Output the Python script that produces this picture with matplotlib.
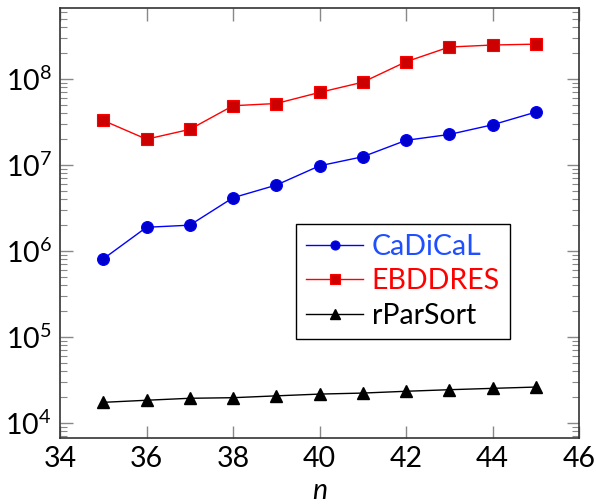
import numpy as np
import matplotlib
matplotlib.use("Agg")
import matplotlib.pyplot as plt
from matplotlib.ticker import LogLocator, NullFormatter

plt.rcParams['font.family'] = ['Lato', 'DejaVu Sans']
plt.rcParams['mathtext.fontset'] = 'custom'
plt.rcParams['mathtext.rm'] = 'Lato'
plt.rcParams['mathtext.it'] = 'Lato:italic'

n = [35, 36, 37, 38, 39, 40, 41, 42, 43, 44, 45]
cadical = [8.1e5, 1.89e6, 2.0e6, 4.17e6, 5.85e6, 9.8e6, 1.25e7, 1.94e7, 2.27e7, 2.94e7, 4.13e7]
ebddres = [3.3e7, 2.0e7, 2.6e7, 4.9e7, 5.2e7, 7.0e7, 9.2e7, 1.59e8, 2.36e8, 2.49e8, 2.55e8]
rparsort = [1.74e4, 1.84e4, 1.94e4, 1.97e4, 2.07e4, 2.17e4, 2.23e4, 2.34e4, 2.44e4, 2.53e4, 2.62e4]

fig = plt.figure(figsize=(5.96, 5.04), dpi=100)
ax = fig.add_axes([0.1007, 0.131, 0.8708, 0.853])

ax.plot(n, cadical, color='#0000ff', lw=1.0, marker='o', ms=8.5,
        mfc='#0000cc', mec='#0000ff', mew=0.8, label='CaDiCaL')
ax.plot(n, ebddres, color='#ff0000', lw=1.0, marker='s', ms=8,
        mfc='#cc0000', mec='#ff0000', mew=0.8, label='EBDDRES')
ax.plot(n, rparsort, color='black', lw=1.0, marker='^', ms=8.5,
        mfc='black', mec='black', label='rParSort')

ax.set_yscale('log')
ax.set_xlim(34, 46)
ax.set_ylim(6.7e3, 6.7e8)
ax.set_xticks([34, 36, 38, 40, 42, 44, 46])
ax.yaxis.set_major_locator(LogLocator(base=10, numticks=10))
ax.yaxis.set_minor_locator(LogLocator(base=10, subs=np.arange(2, 10), numticks=20))
ax.yaxis.set_minor_formatter(NullFormatter())

ax.tick_params(axis='both', which='both', direction='in', top=True, right=True,
               color='#888888', labelsize=20.5, pad=6)
ax.tick_params(axis='both', which='major', length=9, width=1.0)
ax.tick_params(axis='y', which='minor', length=5, width=0.8)
ax.tick_params(axis='x', which='minor', length=0)
for s in ax.spines.values():
    s.set_color('#333333')
    s.set_linewidth(1.2)

ax.set_xlabel('$n$', fontsize=20.5, labelpad=4)

leg = ax.legend(loc='upper left', bbox_to_anchor=(0.455, 0.498), fontsize=20.5,
                frameon=True, fancybox=False, edgecolor='black', framealpha=1,
                handlelength=2.0, handletextpad=0.3, borderpad=0.35,
                labelspacing=0.3, borderaxespad=0)
leg.get_frame().set_linewidth(1.0)
for txt, c in zip(leg.get_texts(), ['#1f4fff', '#ff0000', 'black']):
    txt.set_color(c)
for h in leg.legend_handles:
    h.set_markersize(6.5)

fig.savefig('out.png', dpi=100)
